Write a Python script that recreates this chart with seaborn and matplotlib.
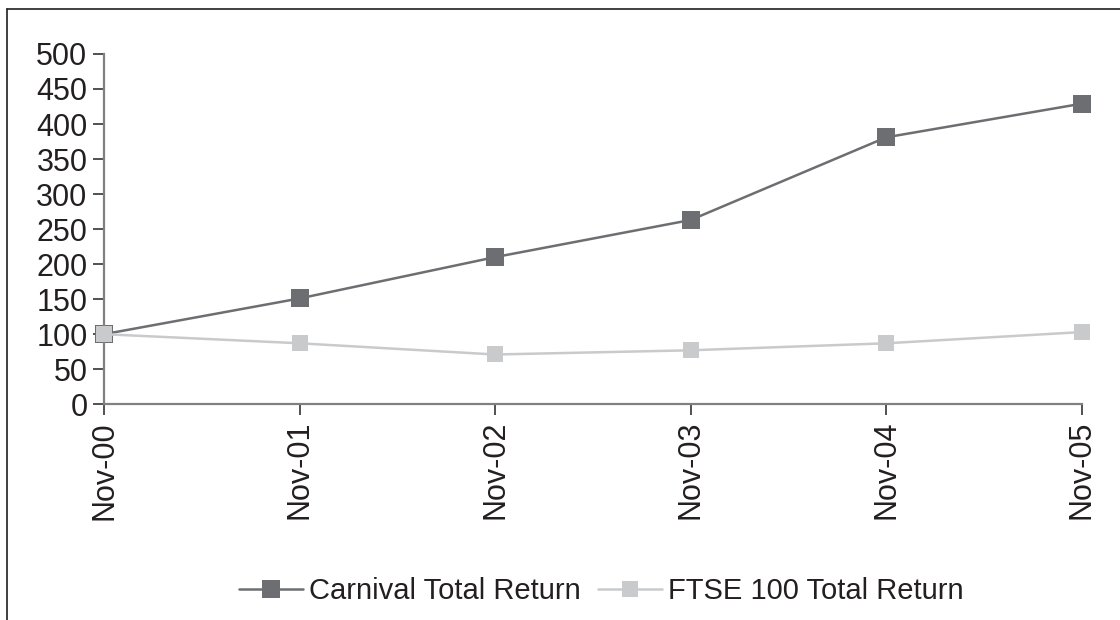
import pandas as pd
import matplotlib.pyplot as plt
from matplotlib.lines import Line2D
import seaborn as sns

dates = ["Nov-00", "Nov-01", "Nov-02", "Nov-03", "Nov-04", "Nov-05"]
carnival = [100, 151, 210, 263, 381, 429]
ftse = [100, 87, 71, 77, 87, 103]

df = pd.DataFrame({
    "date": dates * 2,
    "value": carnival + ftse,
    "series": ["Carnival Total Return"] * 6 + ["FTSE 100 Total Return"] * 6,
})

sns.set_style("white")
plt.rcParams["font.family"] = ["Liberation Sans", "DejaVu Sans"]

fig = plt.figure(figsize=(11.2, 6.2), dpi=100)
ax = fig.add_axes([0.0929, 0.348, 0.873, 0.565])

palette = {"Carnival Total Return": "#6d6e71", "FTSE 100 Total Return": "#c9cacc"}
sns.lineplot(
    data=df, x="date", y="value", hue="series", style="series",
    markers=["s", "s"], dashes=False, palette=palette, sort=False,
    linewidth=1.8, markersize=13, markeredgewidth=0, ax=ax,
)
for ln in ax.lines:
    ln.set_clip_on(False)
# lighter series has slightly smaller markers and sits on top
ax.lines[1].set_markersize(11.5)
ax.lines[1].set_zorder(3)

ax.set_xlim(0, 5)
ax.set_ylim(0, 500)
ax.set_yticks(range(0, 501, 50))
ax.set_xlabel("")
ax.set_ylabel("")

for s in ["top", "right"]:
    ax.spines[s].set_visible(False)
for s in ["left", "bottom"]:
    ax.spines[s].set_color("#808080")
    ax.spines[s].set_linewidth(1.6)

ax.tick_params(axis="y", left=True, length=8, width=1.2, color="#333333",
               labelsize=22, labelcolor="#231f20", pad=4)
ax.tick_params(axis="x", bottom=True, length=8, width=1.2, color="#333333",
               labelsize=22, labelcolor="#231f20", labelrotation=90, pad=4)

ax.legend_.remove()
handles = [
    Line2D([], [], color="#6d6e71", lw=1.8, marker="s", markersize=13, markeredgewidth=0),
    Line2D([], [], color="#c9cacc", lw=1.8, marker="s", markersize=11.5, markeredgewidth=0),
]
fig.legend(handles, ["Carnival Total Return", "FTSE 100 Total Return"],
           loc="center", bbox_to_anchor=(0.537, 0.047), ncol=2, frameon=False,
           fontsize=21, handlelength=2.2, handletextpad=0.2, columnspacing=0.6,
           labelcolor="#231f20")

# partial chart frame (top and left edges)
fig.add_artist(Line2D([0.0065, 0.0065], [0, 0.985], color="#231f20", lw=1.2,
                      transform=fig.transFigure))
fig.add_artist(Line2D([0.0065, 1.0], [0.985, 0.985], color="#231f20", lw=1.2,
                      transform=fig.transFigure))

fig.savefig("out.png", dpi=100)
